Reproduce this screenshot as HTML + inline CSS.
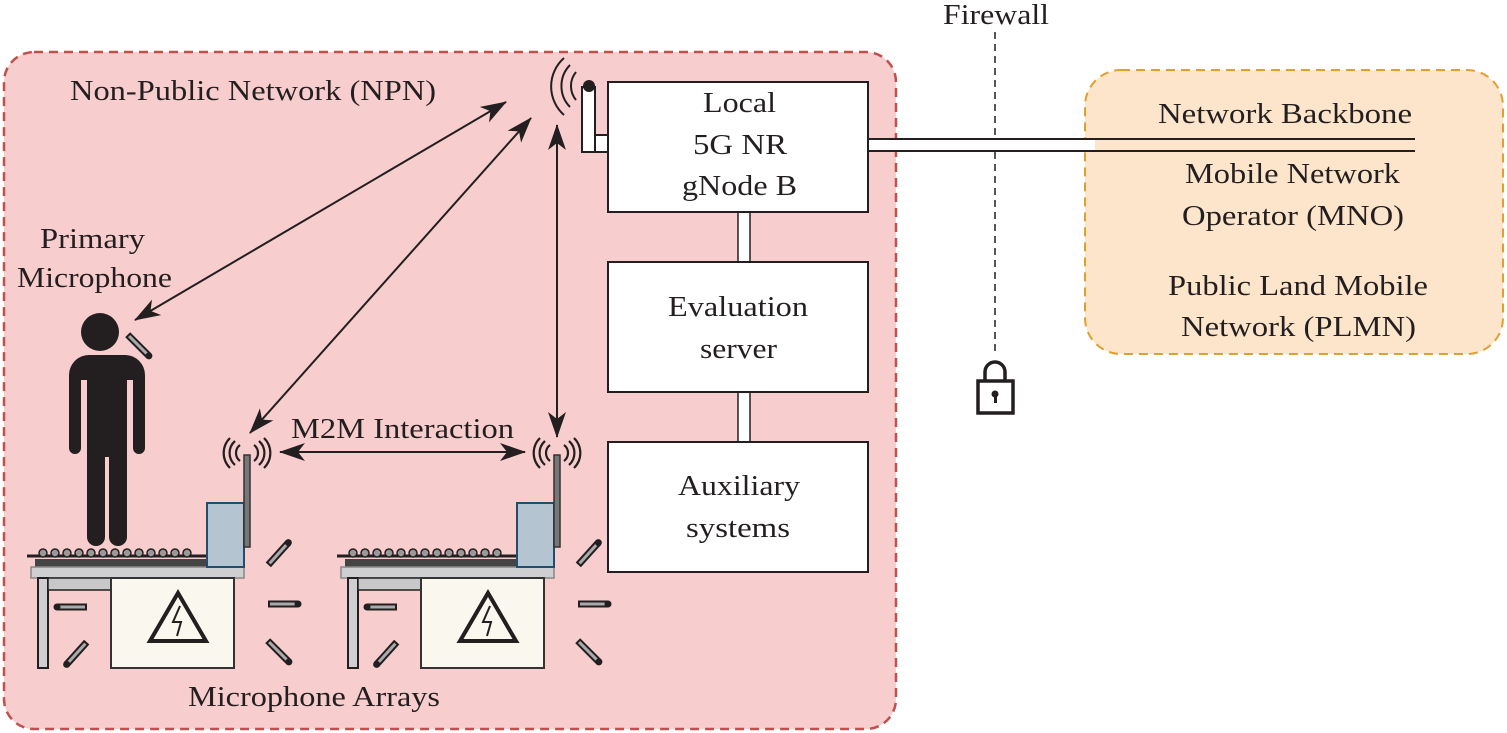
<!DOCTYPE html>
<html><head><meta charset="utf-8"><style>
html,body{margin:0;padding:0;background:#fff;width:1507px;height:733px;overflow:hidden}
text{font-family:"Liberation Serif","Times New Roman","DejaVu Serif",serif;font-size:29px;fill:#231f20}
</style></head><body>
<svg width="1507" height="733" viewBox="0 0 1507 733" xmlns="http://www.w3.org/2000/svg">
<defs>
<marker id="ah" viewBox="0 0 26 18" refX="25" refY="9" markerWidth="26" markerHeight="18" markerUnits="userSpaceOnUse" orient="auto-start-reverse">
<path d="M0,0 L26,9 L0,18 L7,9 Z" fill="#231f20"/></marker>
<g id="mic"><rect x="-15" y="-2.5" width="28" height="5" fill="#aaa" stroke="#231f20" stroke-width="2"/><circle cx="14" cy="0" r="3.5" fill="#231f20"/></g>
<g id="waves" fill="none" stroke="#231f20" stroke-width="2.2">
<path d="M-7,-8 a10,10 0 0 0 0,16"/><path d="M-12,-12 a16,16 0 0 0 0,24"/><path d="M-17,-15 a21,21 0 0 0 0,30"/>
<path d="M7,-8 a10,10 0 0 1 0,16"/><path d="M12,-12 a16,16 0 0 1 0,24"/><path d="M17,-15 a21,21 0 0 1 0,30"/>
</g>
<g id="table">
<line x1="27" y1="556" x2="207" y2="556" stroke="#231f20" stroke-width="3"/>
<g fill="#9a9a9a" stroke="#231f20" stroke-width="1.5">
<circle cx="43" cy="553" r="4"/><circle cx="55" cy="553" r="4"/><circle cx="67" cy="553" r="4"/><circle cx="79" cy="553" r="4"/><circle cx="91" cy="553" r="4"/><circle cx="103" cy="553" r="4"/><circle cx="115" cy="553" r="4"/><circle cx="127" cy="553" r="4"/><circle cx="139" cy="553" r="4"/><circle cx="151" cy="553" r="4"/><circle cx="163" cy="553" r="4"/><circle cx="175" cy="553" r="4"/><circle cx="187" cy="553" r="4"/></g>
<rect x="35" y="559" width="172" height="8" fill="#444" />
<rect x="31" y="567" width="213" height="11" fill="#cfcfd1" stroke="#888" stroke-width="1.5"/>
<rect x="38" y="578" width="10" height="90" fill="#cfcfd1" stroke="#231f20" stroke-width="2"/>
<rect x="48" y="578" width="63" height="12" fill="#c8c8ca" stroke="#231f20" stroke-width="1.5"/>
<rect x="111" y="578" width="123" height="90" fill="#faf7ee" stroke="#333" stroke-width="2"/>
<path d="M178,593 L206,641 L150,641 Z" fill="none" stroke="#231f20" stroke-width="4" stroke-linejoin="miter"/>
<path d="M180,606 L173,622 L181,622 L177,636" fill="none" stroke="#231f20" stroke-width="2"/>
<rect x="207" y="503" width="37" height="64" fill="#b5c4d1" stroke="#1f4e6e" stroke-width="2"/>
<rect x="244" y="455" width="6" height="92" fill="#777" stroke="#333" stroke-width="1.5"/>
<use href="#waves" x="247" y="453"/>
<use href="#mic" transform="translate(279,553) rotate(-48)"/>
<use href="#mic" transform="translate(284,604)"/>
<use href="#mic" transform="translate(279,652) rotate(45)"/>
<use href="#mic" transform="translate(71,607) rotate(180)"/>
<use href="#mic" transform="translate(76,654) rotate(132)"/>
</g>
</defs>
<rect x="4" y="52" width="892" height="677" rx="30" fill="#f7cdcd" stroke="#c0504d" stroke-width="2.5" stroke-dasharray="9,6"/>
<rect x="1085" y="70" width="418" height="284" rx="36" fill="#fde5cc" stroke="#e0a030" stroke-width="2" stroke-dasharray="9,6"/>
<text x="70" y="100" textLength="366" lengthAdjust="spacingAndGlyphs">Non-Public Network (NPN)</text>
<text x="40" y="248" textLength="105" lengthAdjust="spacingAndGlyphs">Primary</text>
<text x="17" y="287" textLength="155" lengthAdjust="spacingAndGlyphs">Microphone</text>
<text x="943" y="24" textLength="106" lengthAdjust="spacingAndGlyphs">Firewall</text>
<line x1="995" y1="32" x2="995" y2="352" stroke="#231f20" stroke-width="1.5" stroke-dasharray="7,5"/>
<path d="M985,382 v-10 a10,10 0 0 1 20,0 v10" fill="none" stroke="#231f20" stroke-width="3.5"/>
<rect x="978" y="381" width="35" height="32" fill="#fff" stroke="#231f20" stroke-width="3.5"/>
<circle cx="995" cy="394" r="3.5" fill="#231f20"/><rect x="994" y="394" width="3" height="9" fill="#231f20"/>
<line x1="868" y1="139" x2="1415" y2="139" stroke="#231f20" stroke-width="2"/>
<line x1="868" y1="151" x2="1415" y2="151" stroke="#231f20" stroke-width="2"/>
<rect x="868" y="140" width="227" height="10" fill="#fff"/>
<text x="1158" y="123" textLength="254" lengthAdjust="spacingAndGlyphs">Network Backbone</text>
<text x="1185" y="183" textLength="215" lengthAdjust="spacingAndGlyphs">Mobile Network</text>
<text x="1182" y="225" textLength="222" lengthAdjust="spacingAndGlyphs">Operator (MNO)</text>
<text x="1168" y="295" textLength="260" lengthAdjust="spacingAndGlyphs">Public Land Mobile</text>
<text x="1181" y="336" textLength="235" lengthAdjust="spacingAndGlyphs">Network (PLMN)</text>
<rect x="738" y="212" width="12" height="50" fill="#fff" stroke="#231f20" stroke-width="1.5"/>
<rect x="738" y="392" width="12" height="50" fill="#fff" stroke="#231f20" stroke-width="1.5"/>
<rect x="608" y="82" width="260" height="130" fill="#fff" stroke="#231f20" stroke-width="2"/>
<rect x="608" y="262" width="260" height="130" fill="#fff" stroke="#231f20" stroke-width="2"/>
<rect x="608" y="442" width="260" height="130" fill="#fff" stroke="#231f20" stroke-width="2"/>
<text x="703" y="112" textLength="73" lengthAdjust="spacingAndGlyphs">Local</text>
<text x="693" y="154" textLength="94" lengthAdjust="spacingAndGlyphs">5G NR</text>
<text x="682" y="195" textLength="115" lengthAdjust="spacingAndGlyphs">gNode B</text>
<text x="668" y="316" textLength="140" lengthAdjust="spacingAndGlyphs">Evaluation</text>
<text x="700" y="358" textLength="77" lengthAdjust="spacingAndGlyphs">server</text>
<text x="678" y="495" textLength="122" lengthAdjust="spacingAndGlyphs">Auxiliary</text>
<text x="686" y="537" textLength="104" lengthAdjust="spacingAndGlyphs">systems</text>
<rect x="582" y="87" width="13" height="65" fill="#fff" stroke="#231f20" stroke-width="2"/>
<rect x="595" y="135" width="13" height="17" fill="#fff" stroke="#231f20" stroke-width="2"/>
<circle cx="589" cy="86" r="6" fill="#231f20"/>
<g fill="none" stroke="#231f20" stroke-width="2">
<path d="M576,72 a22,22 0 0 0 0,28"/><path d="M570,65 a30,30 0 0 0 0,42"/><path d="M564,58 a38,38 0 0 0 0,57"/></g>
<line x1="135" y1="320" x2="506" y2="102" stroke="#231f20" stroke-width="2" marker-start="url(#ah)" marker-end="url(#ah)"/>
<line x1="250" y1="433" x2="531" y2="118" stroke="#231f20" stroke-width="2" marker-start="url(#ah)" marker-end="url(#ah)"/>
<line x1="557" y1="125" x2="557" y2="437" stroke="#231f20" stroke-width="2" marker-start="url(#ah)" marker-end="url(#ah)"/>
<line x1="280" y1="452" x2="525" y2="452" stroke="#231f20" stroke-width="2" marker-start="url(#ah)" marker-end="url(#ah)"/>
<text x="291" y="438" textLength="223" lengthAdjust="spacingAndGlyphs">M2M Interaction</text>
<g fill="#231f20">
<circle cx="100" cy="332" r="19"/>
<path d="M75,355 h50 a20,20 0 0 1 20,20 v73 a6,6 0 0 1 -12,0 v-68 h-6 v157 a9,9 0 0 1 -18,0 v-80 h-4 v80 a9,9 0 0 1 -18,0 v-157 h-6 v68 a6,6 0 0 1 -12,0 v-73 a20,20 0 0 1 20,-20 z"/>
</g>
<use href="#mic" transform="translate(139,346) rotate(45)"/>
<use href="#table"/>
<use href="#table" x="310"/>
<text x="188" y="706" textLength="252" lengthAdjust="spacingAndGlyphs">Microphone Arrays</text>
</svg>
</body></html>
